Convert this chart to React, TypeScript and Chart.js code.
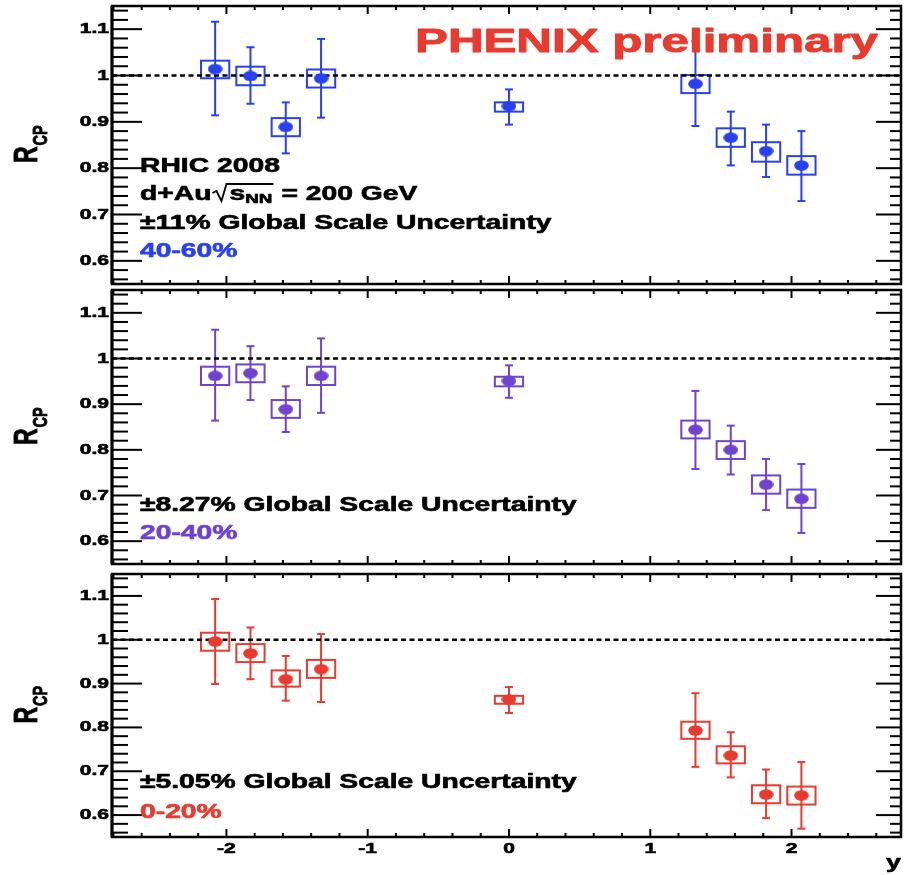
import React, { useEffect, useRef } from "react";
import { Chart, registerables } from "chart.js";

Chart.register(...registerables);

// ---------------- data ----------------
const RAPIDITY = [-2.08, -1.83, -1.58, -1.33, 0, 1.32, 1.57, 1.82, 2.07];

const RCP_40_60 = [1.014, 0.999, 0.889, 0.994, 0.934, 0.982, 0.866, 0.837, 0.806];
const STAT_LO_40_60 = [0.914, 0.939, 0.832, 0.909, 0.894, 0.891, 0.806, 0.781, 0.729];
const STAT_HI_40_60 = [1.116, 1.061, 0.942, 1.079, 0.97, 1.074, 0.922, 0.894, 0.88];
const SYS_LO_40_60 = [0.994, 0.979, 0.869, 0.974, 0.922, 0.962, 0.846, 0.814, 0.786];
const SYS_HI_40_60 = [1.032, 1.019, 0.908, 1.013, 0.942, 1.001, 0.886, 0.856, 0.826];

const RCP_20_40 = [0.962, 0.968, 0.889, 0.962, 0.951, 0.844, 0.8, 0.724, 0.693];
const STAT_LO_20_40 = [0.864, 0.909, 0.839, 0.881, 0.914, 0.758, 0.746, 0.668, 0.618];
const STAT_HI_20_40 = [1.063, 1.027, 0.939, 1.044, 0.985, 0.929, 0.853, 0.78, 0.769];
const SYS_LO_20_40 = [0.942, 0.948, 0.87, 0.942, 0.939, 0.825, 0.78, 0.704, 0.673];
const SYS_HI_20_40 = [0.982, 0.987, 0.909, 0.982, 0.96, 0.864, 0.819, 0.744, 0.713];

const RCP_0_20 = [0.996, 0.969, 0.91, 0.933, 0.864, 0.793, 0.736, 0.647, 0.645];
const STAT_LO_0_20 = [0.899, 0.91, 0.861, 0.858, 0.833, 0.71, 0.686, 0.593, 0.569];
const STAT_HI_0_20 = [1.093, 1.028, 0.963, 1.013, 0.892, 0.878, 0.789, 0.704, 0.721];
const SYS_LO_0_20 = [0.975, 0.949, 0.893, 0.913, 0.854, 0.774, 0.718, 0.627, 0.624];
const SYS_HI_0_20 = [1.016, 0.99, 0.93, 0.954, 0.872, 0.813, 0.757, 0.668, 0.665];

const X_TICKS = [-2, -1, 0, 1, 2];
const X_TICK_LABELS = ["-2", "-1", "0", "1", "2"];
const Y_TICKS = [0.6, 0.7, 0.8, 0.9, 1.0, 1.1];
const Y_TICK_LABELS = ["0.6", "0.7", "0.8", "0.9", "1", "1.1"];
const REFERENCE_LINE = 1;

// ---------------- style ----------------
const X_MIN = -2.81;
const X_MAX = 2.775;
const Y_MIN = 0.55;
const Y_MAX = 1.15;
const SYS_HALF = 0.1;
const SX = 1.45;
const FONT = '"Liberation Sans", Arial, Helvetica, sans-serif';
const BLUE = "rgb(40,64,240)";
const PURPLE = "rgb(112,66,208)";
const RED = "rgb(232,58,46)";

type TextItem = { text: string; x: number; y: number; color: string; size: number };

type PanelDef = {
  values: number[];
  statLo: number[];
  statHi: number[];
  sysLo: number[];
  sysHi: number[];
  color: string;
  top: number;
  height: number;
  padTop: number;
  padBottom: number;
  showX: boolean;
  texts: TextItem[];
  sqrtLine: boolean;
};

const PANELS: PanelDef[] = [
  {
    values: RCP_40_60,
    statLo: STAT_LO_40_60,
    statHi: STAT_HI_40_60,
    sysLo: SYS_LO_40_60,
    sysHi: SYS_HI_40_60,
    color: BLUE,
    top: 0,
    height: 290,
    padTop: 5,
    padBottom: 4,
    showX: false,
    sqrtLine: true,
    texts: [
      { text: "PHENIX preliminary", x: 415, y: 52, color: RED, size: 34 },
      { text: "RHIC 2008", x: 140, y: 172, color: "#000", size: 19.5 },
      { text: "\u00b111% Global Scale Uncertainty", x: 140, y: 229, color: "#000", size: 19.5 },
      { text: "40-60%", x: 140, y: 257, color: BLUE, size: 19.5 },
    ],
  },
  {
    values: RCP_20_40,
    statLo: STAT_LO_20_40,
    statHi: STAT_HI_20_40,
    sysLo: SYS_LO_20_40,
    sysHi: SYS_HI_20_40,
    color: PURPLE,
    top: 284,
    height: 286,
    padTop: 2,
    padBottom: 3,
    showX: false,
    sqrtLine: false,
    texts: [
      { text: "\u00b18.27% Global Scale Uncertainty", x: 140, y: 227, color: "#000", size: 19.5 },
      { text: "20-40%", x: 140, y: 255, color: PURPLE, size: 19.5 },
    ],
  },
  {
    values: RCP_0_20,
    statLo: STAT_LO_0_20,
    statHi: STAT_HI_0_20,
    sysLo: SYS_LO_0_20,
    sysHi: SYS_HI_0_20,
    color: RED,
    top: 568,
    height: 307,
    padTop: 2,
    padBottom: 0,
    showX: true,
    sqrtLine: false,
    texts: [
      { text: "\u00b15.05% Global Scale Uncertainty", x: 140, y: 220, color: "#000", size: 19.5 },
      { text: "0-20%", x: 140, y: 250, color: RED, size: 19.5 },
    ],
  },
];

function makeMarker(color: string): HTMLCanvasElement {
  const c = document.createElement("canvas");
  c.width = 15;
  c.height = 11;
  const g = c.getContext("2d")!;
  g.fillStyle = color;
  g.beginPath();
  g.ellipse(7.5, 5.5, 7.3, 5.2, 0, 0, Math.PI * 2);
  g.fill();
  return c;
}

function stretchedText(
  ctx: CanvasRenderingContext2D,
  text: string,
  x: number,
  y: number,
  size: number,
  color: string,
  align: CanvasTextAlign = "left",
  baseline: CanvasTextBaseline = "alphabetic"
): number {
  ctx.save();
  ctx.translate(x, y);
  ctx.scale(SX, 1);
  ctx.font = `bold ${size}px ${FONT}`;
  ctx.fillStyle = color;
  ctx.strokeStyle = color;
  ctx.lineWidth = size > 25 ? 0.9 : 0.6;
  ctx.lineJoin = "round";
  ctx.textAlign = align;
  ctx.textBaseline = baseline;
  ctx.fillText(text, 0, 0);
  ctx.strokeText(text, 0, 0);
  const w = ctx.measureText(text).width * SX;
  ctx.restore();
  return w;
}

function line(ctx: CanvasRenderingContext2D, x0: number, y0: number, x1: number, y1: number) {
  ctx.beginPath();
  ctx.moveTo(x0, y0);
  ctx.lineTo(x1, y1);
  ctx.stroke();
}

function panelPlugin(p: PanelDef, idx: number) {
  return {
    id: "panelDecor" + idx,
    beforeDatasetsDraw(chart: any) {
      const ctx: CanvasRenderingContext2D = chart.ctx;
      const xs = chart.scales.x;
      const ys = chart.scales.y;
      ctx.save();
      ctx.strokeStyle = p.color;
      ctx.lineWidth = 2;
      RAPIDITY.forEach((r, i) => {
        const x0 = xs.getPixelForValue(r - SYS_HALF);
        const x1 = xs.getPixelForValue(r + SYS_HALF);
        const yh = ys.getPixelForValue(p.sysHi[i]);
        const yl = ys.getPixelForValue(p.sysLo[i]);
        ctx.strokeRect(x0, yh, x1 - x0, yl - yh);
        const px = xs.getPixelForValue(r);
        const sh = ys.getPixelForValue(p.statHi[i]);
        const sl = ys.getPixelForValue(p.statLo[i]);
        line(ctx, px, sh, px, sl);
        line(ctx, px - 4, sh, px + 4, sh);
        line(ctx, px - 4, sl, px + 4, sl);
      });
      ctx.restore();
    },
    afterDraw(chart: any) {
      const ctx: CanvasRenderingContext2D = chart.ctx;
      const xs = chart.scales.x;
      const ys = chart.scales.y;
      const ca = chart.chartArea;
      ctx.save();
      ctx.strokeStyle = "#000";
      ctx.lineWidth = 2.5;
      ctx.lineCap = "butt";
      // frame
      ctx.strokeRect(ca.left, ca.top, ca.right - ca.left, ca.bottom - ca.top);
      ctx.lineWidth = 3;
      line(ctx, ca.left, ca.top, ca.left, ca.bottom);
      ctx.lineWidth = 2;
      // y ticks (inside, both sides)
      for (let k = Math.ceil(Y_MIN / 0.02 - 1e-6); k * 0.02 <= Y_MAX - 0.005; k++) {
        const py = ys.getPixelForValue(k * 0.02);
        const major = k % 5 === 0;
        line(ctx, ca.left, py, ca.left + (major ? 30 : 16), py);
        line(ctx, ca.right, py, ca.right - (major ? 25 : 11), py);
      }
      // x ticks (inside, top and bottom)
      for (let k = Math.ceil(X_MIN / 0.2 - 1e-6); k * 0.2 <= X_MAX; k++) {
        const px = xs.getPixelForValue(k * 0.2);
        const major = k % 5 === 0;
        const len = major ? 8 : 4;
        line(ctx, px, ca.top, px, ca.top + len);
        line(ctx, px, ca.bottom, px, ca.bottom - len);
      }
      ctx.restore();

      // y tick labels
      ys.ticks.forEach((t: any, i: number) => {
        const py = ys.getPixelForValue(t.value);
        stretchedText(ctx, Y_TICK_LABELS[i], ca.left - 3, py, 14.5, "#000", "right", "middle");
      });
      // x tick labels
      if (p.showX) {
        xs.ticks.forEach((t: any, i: number) => {
          const px = xs.getPixelForValue(t.value);
          stretchedText(ctx, X_TICK_LABELS[i], px, ca.bottom + 15.5, 14.5, "#000", "center");
        });
        stretchedText(ctx, "y", ca.right, ca.bottom + 31, 18.6, "#000", "right");
      }

      // y axis title R_CP (rotated)
      const cy = (ca.top + ca.bottom) / 2 + 18;
      ctx.save();
      ctx.translate(37, cy);
      ctx.scale(SX, 1);
      ctx.rotate(-Math.PI / 2);
      ctx.fillStyle = "#000";
      ctx.strokeStyle = "#000";
      ctx.lineWidth = 0.6;
      ctx.textAlign = "left";
      ctx.textBaseline = "alphabetic";
      ctx.font = `bold 23px ${FONT}`;
      ctx.fillText("R", 0, 0);
      ctx.strokeText("R", 0, 0);
      const rw = ctx.measureText("R").width;
      ctx.font = `bold 14.4px ${FONT}`;
      ctx.fillText("CP", rw + 1, 6.9);
      ctx.strokeText("CP", rw + 1, 6.9);
      ctx.restore();

      // annotation texts
      p.texts.forEach((t) => stretchedText(ctx, t.text, t.x, t.y, t.size, t.color));

      if (p.sqrtLine) {
        const by = 200;
        let x = 140;
        x += stretchedText(ctx, "d+Au", x, by, 19.5, "#000");
        const rx = x + 1;
        const sx0 = rx + 17;
        let sx = sx0;
        sx += stretchedText(ctx, "s", sx, by, 19.5, "#000");
        sx += stretchedText(ctx, "NN", sx, by + 3, 13, "#000");
        ctx.save();
        ctx.strokeStyle = "#000";
        ctx.lineWidth = 1.8;
        ctx.beginPath();
        ctx.moveTo(rx, by - 7);
        ctx.lineTo(rx + 4, by - 9);
        ctx.lineTo(rx + 9, by + 1);
        ctx.lineTo(rx + 14, by - 16);
        ctx.lineTo(sx + 1, by - 16);
        ctx.stroke();
        ctx.restore();
        stretchedText(ctx, "= 200 GeV", sx + 9, by, 19.5, "#000");
      }
    },
  };
}

function makeChart(canvas: HTMLCanvasElement, p: PanelDef, idx: number): Chart {
  const marker = makeMarker(p.color);
  const points = RAPIDITY.map((x, i) => ({ x, y: p.values[i] }));
  return new Chart(canvas, {
    type: "scatter",
    data: {
      datasets: [
        {
          type: "scatter",
          data: points,
          pointStyle: marker as any,
          pointRadius: 5,
          pointHoverRadius: 5,
          backgroundColor: p.color,
          borderColor: p.color,
          order: 0,
        } as any,
        {
          type: "line",
          data: [
            { x: X_MIN, y: REFERENCE_LINE },
            { x: X_MAX, y: REFERENCE_LINE },
          ],
          borderColor: "#000",
          borderWidth: 2.5,
          borderDash: [5, 3.5],
          pointRadius: 0,
          fill: false,
          order: 1,
        } as any,
      ],
    },
    options: {
      responsive: false,
      maintainAspectRatio: false,
      animation: false,
      events: [],
      layout: { padding: { top: p.padTop, bottom: p.padBottom, left: 0, right: 2 } },
      plugins: {
        legend: { display: false },
        tooltip: { enabled: false },
        title: { display: false },
      },
      scales: {
        x: {
          type: "linear",
          min: X_MIN,
          max: X_MAX,
          display: p.showX,
          grid: { display: false },
          border: { display: false },
          ticks: { display: false },
          afterBuildTicks: (s: any) => {
            s.ticks = X_TICKS.map((v) => ({ value: v }));
          },
          afterFit: (s: any) => {
            s.height = p.showX ? 38 : 0;
          },
        },
        y: {
          type: "linear",
          min: Y_MIN,
          max: Y_MAX,
          grid: { display: false },
          border: { display: false },
          ticks: { display: false },
          afterBuildTicks: (s: any) => {
            s.ticks = Y_TICKS.map((v) => ({ value: v }));
          },
          afterFit: (s: any) => {
            s.width = 112;
          },
        },
      },
    } as any,
    plugins: [panelPlugin(p, idx)],
  });
}

export default function App() {
  const refs = [useRef<HTMLCanvasElement>(null), useRef<HTMLCanvasElement>(null), useRef<HTMLCanvasElement>(null)];

  useEffect(() => {
    const charts = PANELS.map((p, i) => makeChart(refs[i].current!, p, i));
    return () => charts.forEach((c) => c.destroy());
  }, []);

  return (
    <div style={{ position: "absolute", left: 0, top: 0, width: 907, height: 875, background: "#fff" }}>
      {PANELS.map((p, i) => (
        <canvas
          key={i}
          ref={refs[i]}
          width={907}
          height={p.height}
          style={{ position: "absolute", left: 0, top: p.top, width: 907, height: p.height }}
        />
      ))}
    </div>
  );
}
